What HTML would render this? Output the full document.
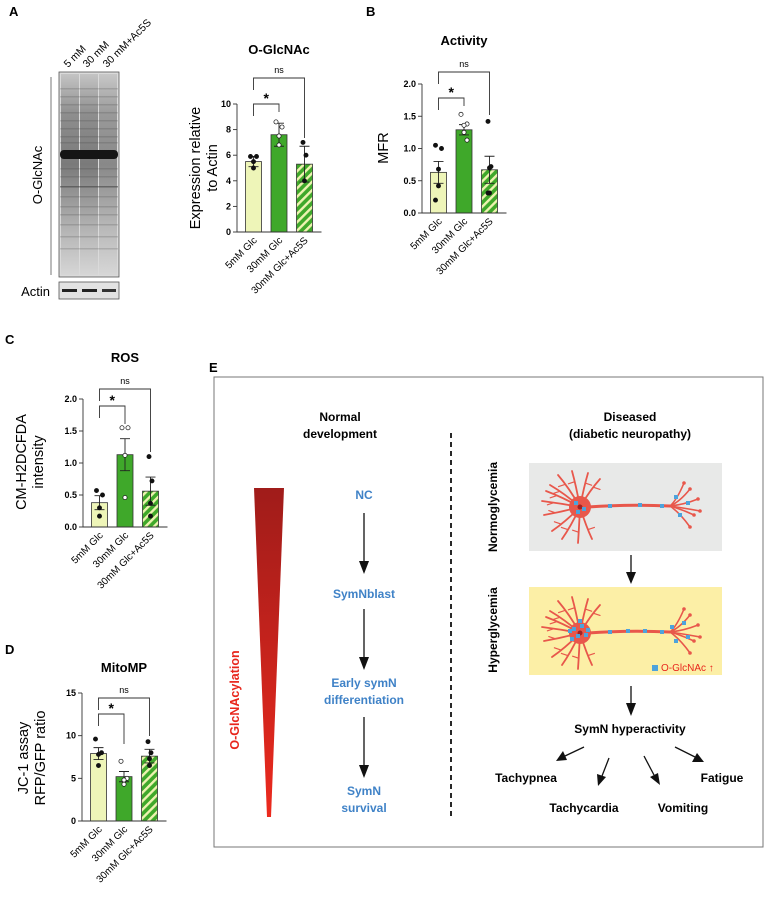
<!DOCTYPE html>
<html><head><meta charset="utf-8">
<style>
html,body{margin:0;padding:0;background:#fff;}
svg{display:block;font-family:"Liberation Sans",Arial,sans-serif;}
</style></head>
<body>
<svg id="fig" width="767" height="897" viewBox="0 0 767 897" xmlns="http://www.w3.org/2000/svg">
<defs>
<pattern id="stripe" patternUnits="userSpaceOnUse" width="6" height="6" patternTransform="rotate(45)">
<rect width="6" height="6" fill="#3fa82a"/><rect width="2.4" height="6" fill="#eef3b0"/>
</pattern>
<linearGradient id="tri" x1="0" y1="0" x2="0" y2="1">
<stop offset="0" stop-color="#a01c1a"/><stop offset="1" stop-color="#ec2a1e"/>
</linearGradient>
<linearGradient id="lane" x1="0" y1="0" x2="0" y2="1">
<stop offset="0" stop-color="#c4c4c4"/><stop offset="0.2" stop-color="#8e8e8e"/><stop offset="0.45" stop-color="#7a7a7a"/><stop offset="0.75" stop-color="#b0b0b0"/><stop offset="1" stop-color="#d6d6d6"/>
</linearGradient>
</defs>

<text x="9" y="16" font-size="13" font-weight="bold">A</text>
<text x="366" y="16" font-size="13" font-weight="bold">B</text>
<text x="5" y="344" font-size="13" font-weight="bold">C</text>
<text x="5" y="654" font-size="13" font-weight="bold">D</text>
<text x="209" y="372" font-size="13" font-weight="bold">E</text>

<g>
<rect x="59" y="72" width="60" height="205" fill="#dadada" stroke="#555" stroke-width="0.8"/>
<rect x="61" y="74" width="18" height="201" fill="url(#lane)"/>
<rect x="80" y="74" width="18" height="201" fill="url(#lane)"/>
<rect x="99" y="74" width="18" height="201" fill="url(#lane)" opacity="0.85"/>
<g id="bands"></g>
<rect x="60" y="150" width="58" height="9" rx="4" fill="#151515"/>
<line x1="51" y1="77" x2="51" y2="275" stroke="#555" stroke-width="0.8"/>
<text transform="translate(42,175) rotate(-90)" text-anchor="middle" font-size="13">O-GlcNAc</text>
<rect x="59" y="282" width="60" height="17" fill="#e2e2e2" stroke="#555" stroke-width="0.8"/>
<rect x="62" y="289" width="15" height="3" fill="#222"/><rect x="82" y="289" width="15" height="3" fill="#222"/><rect x="102" y="289" width="14" height="3" fill="#333"/>
<text x="50" y="296" text-anchor="end" font-size="13">Actin</text>
<text transform="translate(68,68) rotate(-45)" font-size="10.5">5 mM</text>
<text transform="translate(87,68) rotate(-45)" font-size="10.5">30 mM</text>
<text transform="translate(107,68) rotate(-45)" font-size="10.5">30 mM+Ac5S</text>
</g>

<g id="charts"></g>

<g>
<rect x="214" y="377" width="549" height="470" fill="none" stroke="#777" stroke-width="1"/>
<text x="340" y="421" text-anchor="middle" font-size="12" font-weight="bold">Normal</text>
<text x="340" y="438" text-anchor="middle" font-size="12" font-weight="bold">development</text>
<polygon points="254,488 284,488 271,817 267,817" fill="url(#tri)"/>
<text transform="translate(239,700) rotate(-90)" text-anchor="middle" font-size="12.5" font-weight="bold" fill="#e8261c">O-GlcNAcylation</text>
<g font-size="12" font-weight="bold" fill="#3f82c7" text-anchor="middle">
<text x="364" y="499">NC</text>
<text x="364" y="598">SymNblast</text>
<text x="364" y="687">Early symN</text>
<text x="364" y="704">differentiation</text>
<text x="364" y="795">SymN</text>
<text x="364" y="812">survival</text>
</g>
<g stroke="#111" stroke-width="1.3" fill="#111">
<line x1="364" y1="513" x2="364" y2="563"/><polygon points="359,561 369,561 364,574" stroke="none"/>
<line x1="364" y1="609" x2="364" y2="659"/><polygon points="359,657 369,657 364,670" stroke="none"/>
<line x1="364" y1="717" x2="364" y2="767"/><polygon points="359,765 369,765 364,778" stroke="none"/>
</g>
<line x1="451" y1="433" x2="451" y2="817" stroke="#111" stroke-width="1.8" stroke-dasharray="5,4"/>
<text x="630" y="421" text-anchor="middle" font-size="12" font-weight="bold">Diseased</text>
<text x="630" y="438" text-anchor="middle" font-size="12" font-weight="bold">(diabetic neuropathy)</text>
<text transform="translate(497,507) rotate(-90)" text-anchor="middle" font-size="12" font-weight="bold">Normoglycemia</text>
<text transform="translate(497,630) rotate(-90)" text-anchor="middle" font-size="12" font-weight="bold">Hyperglycemia</text>
<rect x="529" y="463" width="193" height="88" fill="#e8e9e8"/>
<rect x="529" y="587" width="193" height="88" fill="#fcefa6"/>
<g id="neurons"></g>
<rect x="652" y="665" width="6" height="6" fill="#4da3dc"/>
<text x="661" y="671" font-size="10" fill="#e8261c">O-GlcNAc ↑</text>
<g stroke="#111" stroke-width="1.3" fill="#111">
<line x1="631" y1="555" x2="631" y2="574"/><polygon points="626,572 636,572 631,584" stroke="none"/>
<line x1="631" y1="686" x2="631" y2="705"/><polygon points="626,703 636,703 631,716" stroke="none"/>
</g>
<text x="630" y="733" text-anchor="middle" font-size="12" font-weight="bold">SymN hyperactivity</text>
<g stroke="#111" stroke-width="1.3" fill="#111">
<line x1="584" y1="747" x2="565" y2="756"/><polygon points="556,761 563,751 567,760" stroke="none"/>
<line x1="609" y1="758" x2="602" y2="776"/><polygon points="598,786 597,774 606,777" stroke="none"/>
<line x1="644" y1="756" x2="654" y2="775"/><polygon points="660,785 650,777 658,773" stroke="none"/>
<line x1="675" y1="747" x2="695" y2="757"/><polygon points="704,762 692,762 697,753" stroke="none"/>
</g>
<g font-size="12" font-weight="bold" text-anchor="middle">
<text x="526" y="782">Tachypnea</text>
<text x="584" y="812">Tachycardia</text>
<text x="683" y="812">Vomiting</text>
<text x="722" y="782">Fatigue</text>
</g>
</g>
</svg>

<script>
const NS = "http://www.w3.org/2000/svg";
const categories = ["5mM Glc", "30mM Glc", "30mM Glc+Ac5S"];
// Panel A: O-GlcNAc
const aMeans = [5.5, 7.6, 5.3];
const aErr = [0.4, 0.9, 1.4];
const aPts = [[5.9, 5.9, 5.5, 5.0], [8.6, 8.2, 7.5, 6.8], [7.0, 6.0, 4.0]];
const aTicks = [0, 2, 4, 6, 8, 10];
const aTickLabels = ["0", "2", "4", "6", "8", "10"];
// Panel B: Activity
const bMeans = [0.63, 1.29, 0.67];
const bErr = [0.17, 0.08, 0.21];
const bPts = [[1.05, 1.0, 0.68, 0.42, 0.2], [1.53, 1.38, 1.36, 1.25, 1.13], [1.42, 0.72, 0.7, 0.31, 0.31]];
const bTicks = [0, 0.5, 1.0, 1.5, 2.0];
const bTickLabels = ["0.0", "0.5", "1.0", "1.5", "2.0"];
// Panel C: ROS
const cMeans = [0.38, 1.13, 0.56];
const cErr = [0.11, 0.25, 0.22];
const cPts = [[0.57, 0.5, 0.3, 0.17], [1.55, 1.55, 1.12, 0.46], [1.1, 0.72, 0.37, 0.17]];
const cTicks = [0, 0.5, 1.0, 1.5, 2.0];
const cTickLabels = ["0.0", "0.5", "1.0", "1.5", "2.0"];
// Panel D: MitoMP
const dMeans = [7.9, 5.2, 7.6];
const dErr = [0.7, 0.6, 0.8];
const dPts = [[9.6, 8.0, 7.8, 6.5], [7.0, 5.0, 4.8, 4.3], [9.3, 8.0, 7.3, 6.5]];
const dTicks = [0, 5, 10, 15];
const dTickLabels = ["0", "5", "10", "15"];

function mk(tag, attrs, parent) {
  const e = document.createElementNS(NS, tag);
  for (const k in attrs) e.setAttribute(k, attrs[k]);
  parent.appendChild(e);
  return e;
}
// faint blot bands
const bandRows = [88, 96, 104, 112, 120, 128, 136, 142, 168, 176, 186, 196, 206, 214, 224, 236, 248];
bandRows.forEach((y, k) => {
  const b = mk("rect", {x: 60, y: y, width: 58, height: 1.5, fill: "#333", opacity: k === 10 ? 0.5 : 0.18}, document.getElementById("bands"));
  
  
});

const fills = ["#eef5b8", "#3fa82a", "url(#stripe)"];
const jit = [[-3, 3, 0, 0, -3], [-3, 3, 0, 0, 3]];

function chart(o) {
  const root = document.getElementById("charts");
  const g = mk("g", {}, root);
  
  
  const ymax = o.ticks[o.ticks.length - 1];
  const yS = v => o.y0 - (v / ymax) * (o.y0 - o.yTop);
  const xS = i => o.ax + 16.5 + 25.5 * i;
  const t = mk("text", {x: xS(1), y: o.titleY, "text-anchor": "middle", "font-size": 13, "font-weight": "bold"}, g);
  t.textContent = o.title;
  
  
  o.yTitle.forEach((line, k) => {
    const yt = mk("text", {transform: `translate(${o.yTitleX + k * 17},${o.yTitleY}) rotate(-90)`, "text-anchor": "middle", "font-size": 14.5}, g);
    yt.textContent = line;
    
    
  });
  o.means.forEach((m, i) => {
    const b = mk("rect", {x: xS(i) - 8, y: yS(m), width: 16, height: o.y0 - yS(m), fill: fills[i], stroke: "#333", "stroke-width": 0.8}, g);
    
    
    const e1 = yS(m + o.err[i]), e2 = yS(m - o.err[i]);
    const eb = mk("path", {d: `M${xS(i)},${e1}V${e2}M${xS(i) - 5},${e1}H${xS(i) + 5}M${xS(i) - 5},${e2}H${xS(i) + 5}`, stroke: "#222", "stroke-width": 0.9, fill: "none"}, g);
    
    
    o.pts[i].forEach((p, j) => {
      const open = i === o.openIdx;
      const c = mk("circle", {cx: xS(i) + jit[i === 1 ? 1 : 0][j] * (i === 2 ? 0.5 : 1), cy: yS(p), r: 2.1, fill: open ? "#fff" : "#111", stroke: "#111", "stroke-width": 0.7}, g);
      
      
    });
    const cl = mk("text", {transform: `translate(${xS(i) + 4},${o.y0 + 9}) rotate(-45)`, "text-anchor": "end", "font-size": 10}, g);
    cl.textContent = categories[i];
    
    
  });
  mk("path", {d: `M${o.ax},${o.yTop}V${o.y0}H${xS(2) + 17}`, stroke: "#333", "stroke-width": 0.9, fill: "none"}, g);
  o.ticks.forEach((v, k) => {
    mk("line", {x1: o.ax - 4, x2: o.ax, y1: yS(v), y2: yS(v), stroke: "#333", "stroke-width": 0.9}, g);
    const tl = mk("text", {x: o.ax - 6, y: yS(v) + 3, "text-anchor": "end", "font-size": 9, "font-weight": "bold"}, g);
    tl.textContent = o.tickLabels[k];
    
    
  });
  const sb = mk("path", {d: `M${xS(0)},${o.starY + 12}V${o.starY}H${xS(1)}V${o.starY + o.starDrop}`, stroke: "#333", "stroke-width": 0.9, fill: "none"}, g);
  
  
  const st = mk("text", {x: (xS(0) + xS(1)) / 2, y: o.starY - 1, "text-anchor": "middle", "font-size": 14, "font-weight": "bold"}, g);
  st.textContent = "*";
  
  
  const nb = mk("path", {d: `M${xS(0)},${o.nsY + 12}V${o.nsY}H${xS(2)}V${o.nsY + o.nsDrop}`, stroke: "#333", "stroke-width": 0.9, fill: "none"}, g);
  
  
  const ns = mk("text", {x: (xS(0) + xS(2)) / 2, y: o.nsY - 5, "text-anchor": "middle", "font-size": 9}, g);
  ns.textContent = "ns";
  
  
}

chart({name: "oglcnac-chart", title: "O-GlcNAc", titleY: 54, ax: 237, y0: 232, yTop: 104, ticks: aTicks, tickLabels: aTickLabels,
  means: aMeans, err: aErr, pts: aPts, openIdx: 1, yTitle: ["Expression relative", "to Actin"], yTitleX: 200, yTitleY: 168,
  starY: 104, starDrop: 8, nsY: 78, nsDrop: 60});
chart({name: "activity-chart", title: "Activity", titleY: 45, ax: 422, y0: 213, yTop: 84, ticks: bTicks, tickLabels: bTickLabels,
  means: bMeans, err: bErr, pts: bPts, openIdx: 1, yTitle: ["MFR"], yTitleX: 388, yTitleY: 148,
  starY: 98, starDrop: 8, nsY: 72, nsDrop: 43});
chart({name: "ros-chart", title: "ROS", titleY: 362, ax: 83, y0: 527, yTop: 399, ticks: cTicks, tickLabels: cTickLabels,
  means: cMeans, err: cErr, pts: cPts, openIdx: 1, yTitle: ["CM-H2DCFDA", "intensity"], yTitleX: 26, yTitleY: 462,
  starY: 406, starDrop: 18, nsY: 389, nsDrop: 63});
chart({name: "mitomp-chart", title: "MitoMP", titleY: 672, ax: 82, y0: 821, yTop: 693, ticks: dTicks, tickLabels: dTickLabels,
  means: dMeans, err: dErr, pts: dPts, openIdx: 1, yTitle: ["JC-1 assay", "RFP/GFP ratio"], yTitleX: 28, yTitleY: 758,
  starY: 714, starDrop: 30, nsY: 698, nsDrop: 38});

const neuronCenters = [507, 633];
function neuron(cy, dense, name) {
  const g = mk("g", {stroke: "#e8574b", fill: "none", "stroke-linecap": "round"}, document.getElementById("neurons"));
  
  
  const sx = 580;
  const dends = [[-30,-22],[-22,-32],[-8,-36],[8,-34],[20,-28],[-38,-6],[-36,8],[-28,24],[-18,32],[-2,36],[12,32],[-34,-16]];
  dends.forEach(d => {
    mk("path", {d: `M${sx},${cy} Q${sx + d[0] * 0.5},${cy + d[1] * 0.6} ${sx + d[0]},${cy + d[1]}`, "stroke-width": 1.8}, g);
    mk("path", {d: `M${sx + d[0] * 0.7},${cy + d[1] * 0.7} l${d[0] > 0 ? 6 : -6},${d[1] > 0 ? -2 : 2}`, "stroke-width": 1.2}, g);
  });
  mk("circle", {cx: sx, cy: cy, r: 11, fill: "#e8574b", stroke: "none"}, g);
  mk("circle", {cx: sx, cy: cy, r: 2.5, fill: "#a32020", stroke: "none"}, g);
  mk("path", {d: `M${sx + 8},${cy} Q${sx + 50},${cy - 3} ${sx + 90},${cy - 1}`, "stroke-width": 3}, g);
  const tx = sx + 90;
  [[20,-18],[28,-8],[24,8],[20,20],[14,-24],[30,4]].forEach(d => {
    mk("path", {d: `M${tx},${cy - 1} Q${tx + d[0] * 0.5},${cy + d[1] * 0.3} ${tx + d[0]},${cy + d[1]}`, "stroke-width": 1.6}, g);
    mk("circle", {cx: tx + d[0], cy: cy + d[1], r: 1.8, fill: "#e8574b", stroke: "none"}, g);
  });
  const blue = dense
    ? [[-6,-4],[2,-7],[-2,3],[6,2],[-8,6],[8,-3],[0,-12],[-10,-2],[30,-1],[48,-2],[65,-2],[82,-1],[92,-6],[96,8],[104,-10],[108,4]]
    : [[-4,-4],[4,2],[-2,5],[30,-1],[60,-2],[82,-1],[96,-10],[100,8],[108,-4]];
  blue.forEach(b => {
    const r = mk("rect", {x: sx + b[0] - 2, y: cy + b[1] - 2, width: 4, height: 4, fill: "#4da3dc", stroke: "none"}, g);
    
    
  });
}
neuron(neuronCenters[0], false, "neuron-normoglycemia");
neuron(neuronCenters[1], true, "neuron-hyperglycemia");
</script>
</body></html>
